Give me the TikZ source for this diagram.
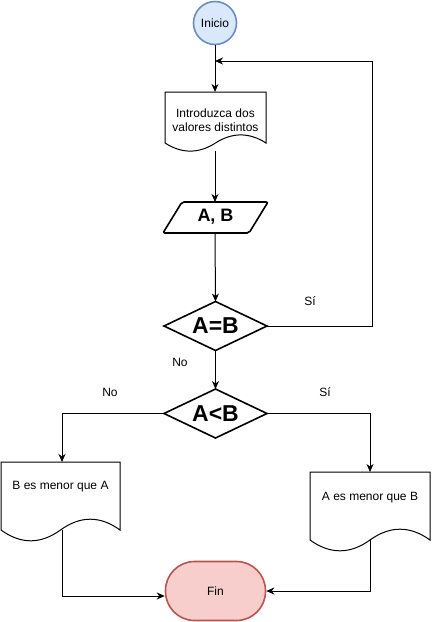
\documentclass[tikz,border=0pt]{standalone}
\usepackage{fontspec}
\setmainfont{Liberation Sans}
\usetikzlibrary{arrows.meta}
\definecolor{inicioF}{HTML}{DAE8FC}
\definecolor{inicioB}{HTML}{6C8EBF}
\definecolor{finF}{HTML}{F8CECC}
\definecolor{finB}{HTML}{B85450}
\newcommand\docpath[4]{%
\draw[docst] (#1,#2) -- ({#1+#3},#2) -- ({#1+#3},{#2+0.85*#4})
 .. controls ({#1+5*#3/6},{#2+0.67*#4}) and ({#1+2*#3/3},{#2+0.67*#4}) .. ({#1+#3/2},{#2+0.85*#4})
 .. controls ({#1+#3/3},{#2+1.03*#4}) and ({#1+#3/6},{#2+1.03*#4}) .. (#1,{#2+0.85*#4}) -- cycle;}
\newcommand\decpath[2]{%
\draw[decst] ({#1-51.5},#2) -- (#1,{#2-24.5}) -- ({#1+51.5},#2) -- (#1,{#2+24.5}) -- cycle;}
\begin{document}
\begin{tikzpicture}[x=1pt,y=-1pt,
  conn/.style={line width=1pt,-{Stealth[length=8pt,width=7pt,inset=2.5pt]}},
  docst/.style={draw=black,fill=white,line width=1pt},
  decst/.style={draw=black,line width=1.6pt,line join=miter},
  txt/.style={font=\fontsize{12}{14}\selectfont,align=center,inner sep=0pt},
  lbl/.style={font=\fontsize{12}{14}\selectfont,inner sep=0pt},
  dectxt/.style={inner sep=0pt,font=\fontsize{23}{26}\selectfont\bfseries}]
\useasboundingbox (0,0) rectangle (432,622);
% Inicio
\node[circle,draw=inicioB,fill=inicioF,line width=1.6pt,minimum size=43pt,inner sep=0pt,txt] (inicio) at (215,23) {Inicio};
% Document 1
\docpath{165}{92}{101}{60}
\node[txt] (doc1) at (215.5,120) {Introduzca dos\\valores distintos};
\coordinate (doc1top) at (215,92);
\coordinate (doc1bot) at (215,151);
% Parallelogram
\draw[line width=1.6pt,rounded corners=2pt] (182,202) -- (268,202) -- (249,233) -- (163,233) -- cycle;
\node[inner sep=0pt,font=\fontsize{18}{20}\selectfont\bfseries] (ab) at (215.5,217) {A, B};
\coordinate (abtop) at (215,202);
\coordinate (abbot) at (215,233);
% Decisions
\decpath{215.5}{326}
\node[dectxt] (eq) at (215.5,326) {A=B};
\coordinate (eqN) at (215.5,301.5);
\coordinate (eqS) at (215.5,350.5);
\coordinate (eqE) at (267,326);
\decpath{215.5}{413.5}
\node[dectxt] (lt) at (215.5,413.5) {A<B};
\coordinate (ltN) at (215.5,389);
\coordinate (ltW) at (164,413.5);
\coordinate (ltE) at (267,413.5);
% Documents 2 and 3
\docpath{1}{462}{119}{80}
\node[txt] (docB) at (60.5,487) {B es menor que A};
\docpath{310}{472}{120}{80}
\node[txt] (docA) at (370,498) {A es menor que B};
\coordinate (docBtop) at (62,462);
\coordinate (docBbot) at (62,530);
\coordinate (docAtop) at (370,472);
\coordinate (docAbot) at (370,540);
% Fin
\node[draw=finB,fill=finF,line width=1.6pt,rounded corners=29pt,minimum width=100pt,minimum height=59pt,txt] (fin) at (215.5,591) {Fin};
% Connectors
\draw[conn] (inicio.south) -- (doc1top);
\draw[conn] (doc1bot) -- (abtop);
\draw[conn] (abbot) -- (eqN);
\coordinate (loopin) at (215,61);
\draw[conn] (eqE) -- (372,326) -- (372,61) -- (loopin);
\draw[conn] (eqS) -- (ltN);
\draw[conn] (ltW) -- (62,413.5) -- (docBtop);
\draw[conn] (ltE) -- (370,413.5) -- (docAtop);
\draw[conn] (docBbot) -- (62,596) -- (fin.west |- 0,596);
\draw[conn] (docAbot) -- (370,591) -- (fin.east);
% Labels
\node[lbl] (si1) at (310,301) {Sí};
\node[lbl] (no1) at (180,362) {No};
\node[lbl] (no2) at (110,392) {No};
\node[lbl] (si2) at (325,392) {Sí};
\end{tikzpicture}
\end{document}
